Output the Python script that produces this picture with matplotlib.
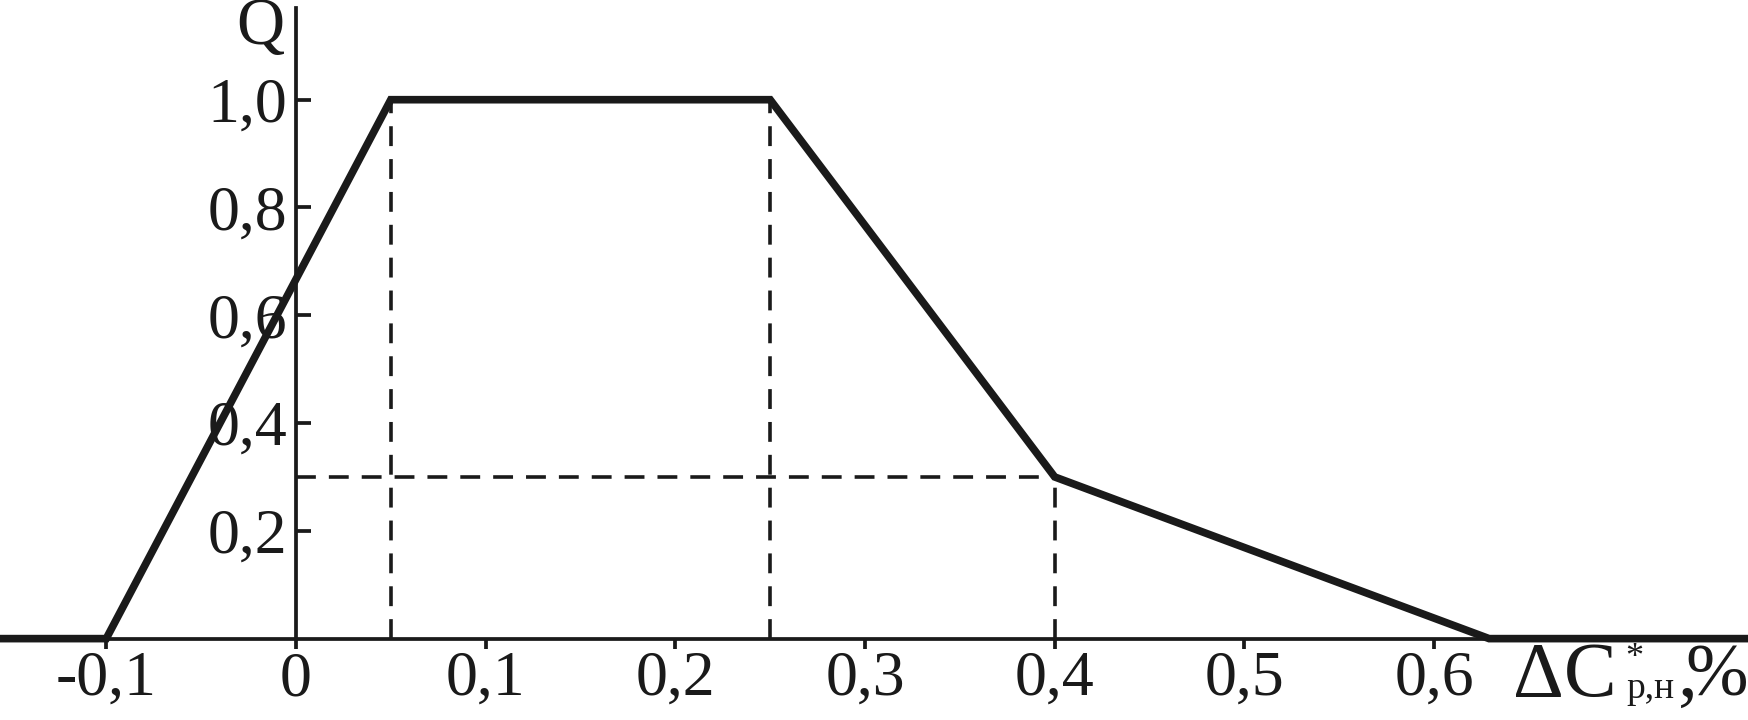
import matplotlib
matplotlib.use("Agg")
import matplotlib.pyplot as plt

# Data: membership-like curve Q(ΔC)
curve_x = [-0.156, -0.10, 0.05, 0.25, 0.40, 0.629, 0.766]
curve_y = [0.0, 0.0, 1.0, 1.0, 0.30, 0.0, 0.0]

# Dashed guide lines
vguides_x = [0.05, 0.25, 0.40]
vguides_top = [1.0, 1.0, 0.30]
hguide_y = 0.30
hguide_x_end = 0.40

xticks = [-0.1, 0.0, 0.1, 0.2, 0.3, 0.4, 0.5, 0.6]
xtick_labels = ["-0,1", "0", "0,1", "0,2", "0,3", "0,4", "0,5", "0,6"]
yticks = [0.2, 0.4, 0.6, 0.8, 1.0]
ytick_labels = ["0,2", "0,4", "0,6", "0,8", "1,0"]

plt.rcParams['font.family'] = ['Liberation Serif', 'DejaVu Serif']

fig = plt.figure(figsize=(17.49, 7.20), dpi=100)
ax = fig.add_axes([0, 0, 1, 1])
ax.set_xlim(-0.156, 0.766)
ax.set_ylim(-0.151, 1.185)

for s in ['top', 'right']:
    ax.spines[s].set_visible(False)
ax.spines['left'].set_position(('data', 0))
ax.spines['bottom'].set_position(('data', 0))
ax.spines['left'].set_bounds(0, 1.17)
ax.spines['left'].set_linewidth(2.7)
ax.spines['bottom'].set_linewidth(2.7)
ax.spines['left'].set_color('#1a1a1a')
ax.spines['bottom'].set_color('#1a1a1a')

ax.set_xticks(xticks)
ax.set_xticklabels(xtick_labels)
ax.set_yticks(yticks)
ax.set_yticklabels(ytick_labels)
ax.tick_params(axis='x', direction='out', length=7, width=2.7, pad=2, labelsize=46,
               color='#1a1a1a', labelcolor='#1a1a1a')
ax.tick_params(axis='y', direction='in', length=11, width=2.7, pad=6, labelsize=46,
               color='#1a1a1a', labelcolor='#1a1a1a')
ax.patch.set_alpha(0)

# dashed guides
dash = (0, (5.5, 3.6))
for gx, gt in zip(vguides_x, vguides_top):
    ax.plot([gx, gx], [0, gt], color='#1a1a1a', lw=2.6, linestyle=dash, zorder=2)
ax.plot([0, hguide_x_end], [hguide_y, hguide_y], color='#1a1a1a', lw=2.6,
        linestyle=dash, zorder=2)

# main curve
ax.plot(curve_x, curve_y, color='#1a1a1a', lw=5.5, solid_joinstyle='miter', zorder=3,
        clip_on=False)

# axis labels
tc = '#1a1a1a'
ax.text(-0.019, 1.134, "Q", fontsize=48, ha='center', va='center', color=tc)
ax.text(0.6416, -0.106, "ΔC", fontsize=57, ha='left', va='baseline', color=tc)
ax.text(0.7010, -0.037, "*", fontsize=26, ha='left', va='center', color=tc)
ax.text(0.7015, -0.110, "р,н", fontsize=27, ha='left', va='baseline', color=tc)
ax.text(0.7285, -0.106, ",", fontsize=57, ha='left', va='baseline', color=tc)
ax.text(0.9995, -0.106, "%", fontsize=54, ha='right', va='baseline', color=tc,
        transform=ax.get_yaxis_transform())

fig.savefig("out.png", dpi=100)
